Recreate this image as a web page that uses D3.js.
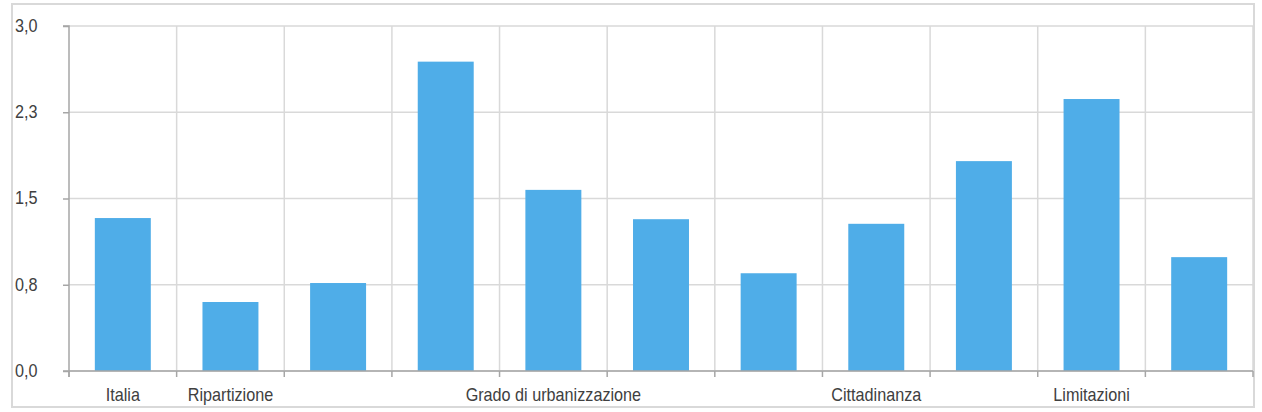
<!DOCTYPE html>
<html><head><meta charset="utf-8">
<script src="https://cdn.jsdelivr.net/npm/d3@7"></script>
<style>body{margin:0;background:#fff}svg{display:block}text{font-family:"Liberation Sans",Arial,sans-serif;fill:#404040}</style>
</head><body><svg id="c" width="1262" height="412"></svg>
<script>
const categories = ["Italia","Ripartizione","","","Grado di urbanizzazione","","","Cittadinanza","","Limitazioni",""];
const values = [1.33,0.60,0.765,2.69,1.575,1.32,0.85,1.28,1.825,2.365,0.99];
const yTicks = [0,0.75,1.5,2.25,3.0];

const svg = d3.select("#c");
const m={left:69,right:1253,top:26,bottom:371};
const sx = 0.9;
svg.append("rect").attr("x",12).attr("y",4).attr("width",1242).attr("height",403)
  .attr("fill","#fff").attr("stroke","#d9d9d9").attr("stroke-width",2);

const idx = d3.range(values.length);
const x = d3.scaleBand().domain(idx).range([m.left,m.right]).paddingInner(0.48).paddingOuter(0.24);
const y = d3.scaleLinear().domain([0,3]).range([m.bottom,m.top]);
const bounds = d3.range(values.length+1).map(i=>m.left + i*(m.right-m.left)/values.length);

svg.append("g").selectAll("line").data(yTicks).join("line")
  .attr("x1",m.left).attr("x2",m.right).attr("y1",d=>y(d)).attr("y2",d=>y(d))
  .attr("stroke","#d9d9d9").attr("stroke-width",1.5);
svg.append("g").selectAll("line").data(bounds.slice(1)).join("line")
  .attr("x1",d=>d).attr("x2",d=>d).attr("y1",m.top).attr("y2",m.bottom)
  .attr("stroke","#d9d9d9").attr("stroke-width",1.5);

svg.append("g").selectAll("rect").data(values).join("rect")
  .attr("x",(d,i)=>x(i)).attr("width",x.bandwidth())
  .attr("y",d=>y(d)).attr("height",d=>y(0)-y(d)).attr("fill","#4FADE8");

const ya = d3.axisLeft(y).tickValues(yTicks).tickSize(6).tickFormat(d=>d3.format(".1f")(d).replace(".",","));
const gy = svg.append("g").attr("transform",`translate(${m.left},0)`).call(ya);
gy.select(".domain").attr("stroke","#a6a6a6").attr("stroke-width",1.5).attr("d",`M-6,${m.top}H0V${m.bottom+6}`);
gy.selectAll(".tick line").attr("stroke","#a6a6a6").attr("stroke-width",1.5);
gy.selectAll(".tick text").attr("x",-54/sx).attr("text-anchor","start").attr("dy","0.3em")
  .attr("transform",`scale(${sx},1)`).style("font-size","18px").attr("fill","#404040");

const xa = d3.axisBottom(x).tickSize(0).tickFormat(i=>categories[i]);
const gx = svg.append("g").attr("transform",`translate(0,${m.bottom})`).call(xa);
gx.select(".domain").attr("stroke","#a6a6a6").attr("stroke-width",1.5).attr("d",`M${m.left-6},0H${m.right}`);
gx.selectAll(".tick text").attr("y",17).attr("dy","0.71em").attr("transform",`scale(${sx},1)`)
  .style("font-size","18px").attr("fill","#404040");
gx.append("g").selectAll("line").data(bounds).join("line")
  .attr("x1",d=>d).attr("x2",d=>d).attr("y1",0).attr("y2",6)
  .attr("stroke","#a6a6a6").attr("stroke-width",1.5);
</script></body></html>
